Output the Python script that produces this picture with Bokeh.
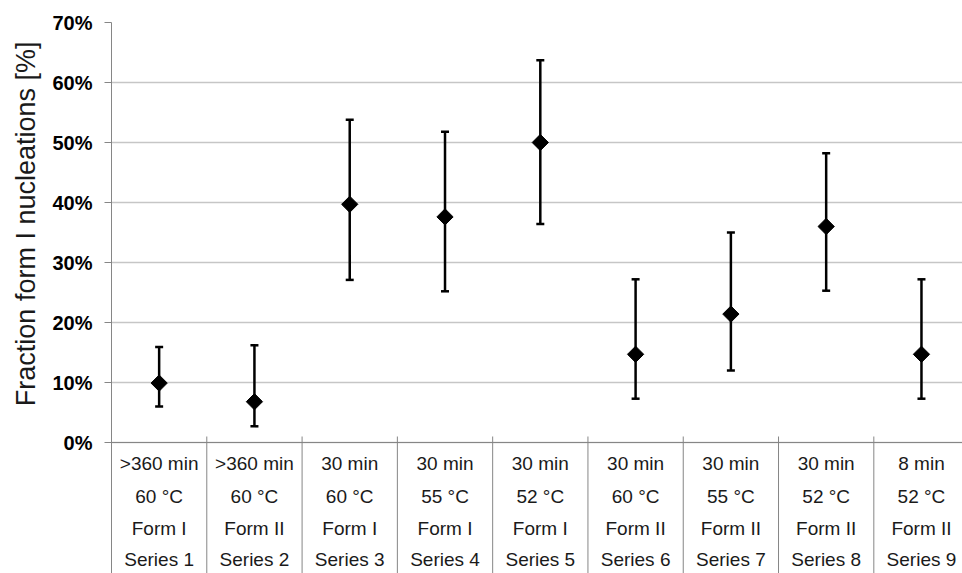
import math
from bokeh.plotting import figure
from bokeh.models import (ColumnDataSource, Range1d, FixedTicker, NumeralTickFormatter,
                          Whisker, TeeHead, Title)
from bokeh.core.properties import value
from bokeh.embed import file_html
from bokeh.resources import INLINE

# ---- data ----
durations = [">360 min", ">360 min", "30 min", "30 min", "30 min", "30 min", "30 min", "30 min", "8 min"]
temperatures = ["60 °C", "60 °C", "60 °C", "55 °C", "52 °C", "60 °C", "55 °C", "52 °C", "52 °C"]
forms = ["Form I", "Form II", "Form I", "Form I", "Form I", "Form II", "Form II", "Form II", "Form II"]
series = ["Series 1", "Series 2", "Series 3", "Series 4", "Series 5", "Series 6", "Series 7", "Series 8", "Series 9"]
fraction = [0.099, 0.068, 0.397, 0.376, 0.500, 0.147, 0.214, 0.360, 0.147]
upper = [0.159, 0.162, 0.538, 0.518, 0.637, 0.272, 0.350, 0.482, 0.272]
lower = [0.060, 0.027, 0.271, 0.252, 0.364, 0.073, 0.120, 0.253, 0.073]
y_ticks = [0.0, 0.1, 0.2, 0.3, 0.4, 0.5, 0.6, 0.7]
y_title = "Fraction form I nucleations [%]"

# ---- geometry (pixels) ----
W, H = 962, 573
left_px, top_px, zero_px = 111, 22, 442
cat_px = 95.29
px_per_unit_y = (zero_px - top_px) / 0.7
y_bottom = -(H - zero_px) / px_per_unit_y
x_end = (W - left_px) / cat_px

n = len(series)
xc = [i + 0.5 for i in range(n)]

p = figure(width=W, height=H, output_backend="svg", toolbar_location=None,
           x_range=Range1d(0, x_end), y_range=Range1d(y_bottom, 0.7),
           min_border_left=left_px, min_border_top=top_px, min_border_bottom=0,
           min_border_right=0)
p.outline_line_color = None
p.background_fill_color = "white"
p.border_fill_color = "white"

# x axis hidden, drawn manually as a table
p.xaxis.visible = False
p.xgrid.visible = False

yax = p.yaxis[0]
yax.ticker = FixedTicker(ticks=y_ticks)
yax.formatter = NumeralTickFormatter(format="0%")
yax.major_label_text_font = "Liberation Sans"
yax.major_label_text_font_style = "bold"
yax.major_label_text_font_size = "20px"
yax.major_label_text_color = "black"
yax.major_label_standoff = 12
yax.axis_line_color = "#868686"
yax.axis_line_width = 1
yax.major_tick_line_color = "#868686"
yax.major_tick_out = 7
yax.major_tick_in = 0
yax.minor_tick_line_color = None

p.ygrid.ticker = FixedTicker(ticks=y_ticks)
p.ygrid.grid_line_color = "#c6c6c6"
p.ygrid.grid_line_width = 1.5

# y axis title (left side, anchored near the top of the value range)
title = Title(text=y_title, align="right", offset=19, vertical_align="middle",
              text_font="Liberation Sans", text_font_size="27px",
              text_font_style="normal", text_color="#1a1a1a", standoff=16)
p.add_layout(title, "left")

# horizontal axis line at 0
p.segment(x0=[0], y0=[0], x1=[x_end], y1=[0], line_color="#868686", line_width=1.2)
# separators between categories
tick_up = 6 / px_per_unit_y
sep_x = [float(i) for i in range(1, n)]
p.segment(x0=sep_x, y0=[y_bottom] * len(sep_x), x1=sep_x, y1=[tick_up] * len(sep_x),
          line_color="#868686", line_width=1)

# category table text
row_offsets_px = [21, 53.5, 86, 117]
for rows, off in zip([durations, temperatures, forms, series], row_offsets_px):
    p.text(x=xc, y=[-off / px_per_unit_y] * n, text=rows,
           text_font=value("Liberation Sans"), text_font_size="19px",
           text_color="#1a1a1a", text_align="center", text_baseline="middle")

# error bars
src = ColumnDataSource(dict(x=xc, y=fraction, upper=upper, lower=lower))
wh = Whisker(base="x", upper="upper", lower="lower", source=src,
             line_color="black", line_width=2.5,
             upper_head=TeeHead(size=8, line_width=2.5, line_color="black"),
             lower_head=TeeHead(size=8, line_width=2.5, line_color="black"))
p.add_layout(wh)

# diamonds
p.scatter(x="x", y="y", source=src, marker="square", angle=math.pi / 4, size=11.5,
          fill_color="black", line_color="black")

open("out.html", "w").write(file_html(p, INLINE))
